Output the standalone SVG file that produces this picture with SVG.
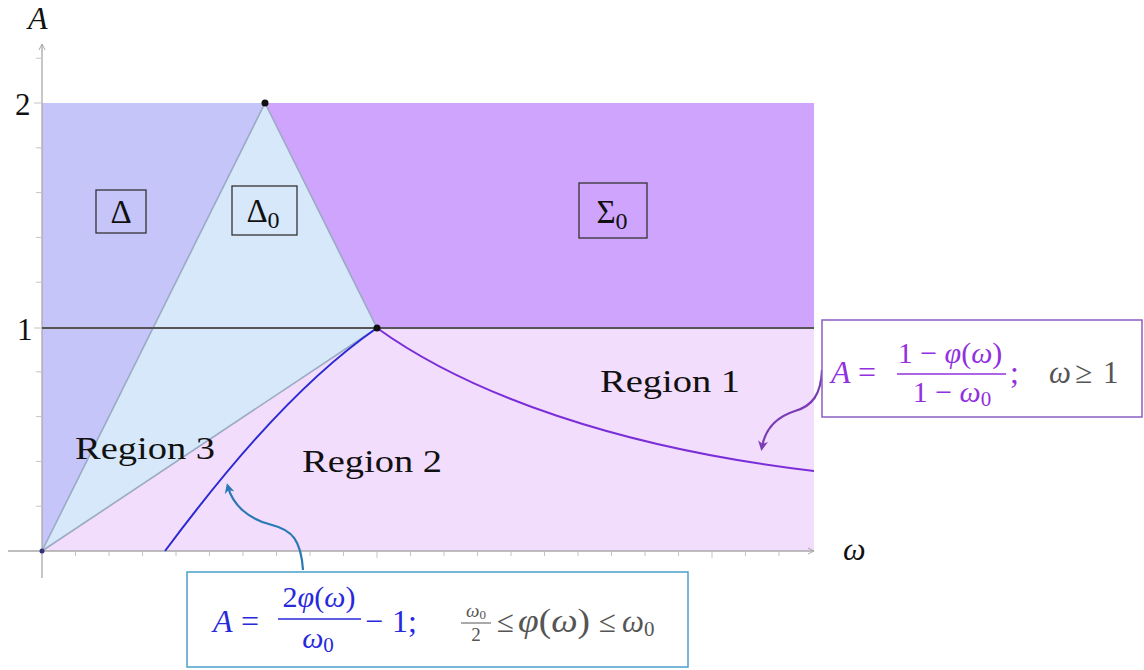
<svg xmlns="http://www.w3.org/2000/svg" width="1144" height="670" viewBox="0 0 1144 670">
<style>
.m{font-family:"Liberation Serif","DejaVu Serif",serif;}
.i{font-style:italic;}
.lbl{font-family:"Liberation Serif","DejaVu Serif",serif;fill:#111;}
.edge{stroke:#9aaac4;stroke-width:1.6;fill:none;}
.ax{stroke:#a8a8a8;stroke-width:1.3;fill:none;}
.tk{stroke:#c4c4c4;stroke-width:1;}
.box{fill:none;stroke:#333;stroke-width:1.3;}
</style>
<defs>
<marker id="axh" markerWidth="8" markerHeight="8" refX="6" refY="4" orient="auto" markerUnits="userSpaceOnUse"><path d="M0,1 L6,4 L0,7" fill="none" stroke="#a8a8a8" stroke-width="1"/></marker>
<marker id="ab" markerWidth="12" markerHeight="12" refX="6" refY="6" orient="auto" markerUnits="userSpaceOnUse"><path d="M0,1 L10,6 L0,11 L3,6 Z" fill="#2a78b4"/></marker>
<marker id="ap" markerWidth="12" markerHeight="12" refX="6" refY="6" orient="auto" markerUnits="userSpaceOnUse"><path d="M0,1 L10,6 L0,11 L3,6 Z" fill="#7a3cb4"/></marker>
</defs>

<g id="regions">
<polygon id="pink" points="42,551 377,328 814,328 814,551" fill="#f3ddfc"/>
<polygon id="sigma0" points="265,103 814,103 814,328 377,328" fill="#cfa4fc"/>
<polygon id="delta" points="42,103 265,103 42,551" fill="#c5c5fa"/>
<polygon id="delta0" points="42,551 265,103 377,328" fill="#d6e8fa"/>
</g>

<g id="axes">
<line class="ax" x1="42" y1="578" x2="42" y2="44" marker-end="url(#axh)"/>
<line class="ax" x1="8" y1="551" x2="814" y2="551" marker-end="url(#axh)"/>
<g class="tk">
<line x1="36" y1="506.2" x2="42" y2="506.2"/><line x1="36" y1="461.4" x2="42" y2="461.4"/><line x1="36" y1="416.6" x2="42" y2="416.6"/><line x1="36" y1="371.8" x2="42" y2="371.8"/><line x1="34" y1="328" x2="42" y2="328"/>
<line x1="36" y1="282.2" x2="42" y2="282.2"/><line x1="36" y1="237.4" x2="42" y2="237.4"/><line x1="36" y1="192.6" x2="42" y2="192.6"/><line x1="36" y1="147.8" x2="42" y2="147.8"/><line x1="34" y1="103" x2="42" y2="103"/><line x1="36" y1="58.2" x2="42" y2="58.2"/>
<line x1="75.5" y1="551" x2="75.5" y2="556"/><line x1="109" y1="551" x2="109" y2="556"/><line x1="142.5" y1="551" x2="142.5" y2="556"/><line x1="176" y1="551" x2="176" y2="556"/><line x1="209.5" y1="551" x2="209.5" y2="556"/><line x1="243" y1="551" x2="243" y2="556"/><line x1="276.5" y1="551" x2="276.5" y2="556"/><line x1="310" y1="551" x2="310" y2="556"/><line x1="343.5" y1="551" x2="343.5" y2="556"/><line x1="377" y1="551" x2="377" y2="558"/>
<line x1="410.5" y1="551" x2="410.5" y2="556"/><line x1="444" y1="551" x2="444" y2="556"/><line x1="477.5" y1="551" x2="477.5" y2="556"/><line x1="511" y1="551" x2="511" y2="556"/><line x1="544.5" y1="551" x2="544.5" y2="556"/><line x1="578" y1="551" x2="578" y2="556"/><line x1="611.5" y1="551" x2="611.5" y2="556"/><line x1="645" y1="551" x2="645" y2="556"/><line x1="678.5" y1="551" x2="678.5" y2="556"/><line x1="712" y1="551" x2="712" y2="558"/>
<line x1="745.5" y1="551" x2="745.5" y2="556"/><line x1="779" y1="551" x2="779" y2="556"/>
</g>
<text class="lbl i" x="28" y="29" font-size="32">A</text>
<text class="lbl i" x="843" y="560" font-size="32">ω</text>
<text class="lbl" x="15" y="115" font-size="31">2</text>
<text class="lbl" x="17" y="340" font-size="31">1</text>
</g>

<g id="boundaries">
<line class="edge" x1="42" y1="551" x2="265" y2="103"/>
<line class="edge" x1="265" y1="103" x2="377" y2="328"/>
<line class="edge" x1="42" y1="551" x2="377" y2="328"/>
<line x1="42" y1="328" x2="814" y2="328" stroke="#555" stroke-width="2"/>
<path id="curve1" d="M377,328 C470,395 620,448 814,471" fill="none" stroke="#7a2ed8" stroke-width="2"/>
<path id="curve2" d="M165,551 C212,488 290,388 377,328" fill="none" stroke="#2a2ad4" stroke-width="2"/>
<circle cx="265" cy="103" r="3.5" fill="#111"/>
<circle cx="377" cy="328" r="3.5" fill="#111"/>
<circle cx="42" cy="551" r="2.5" fill="#33337a"/>
</g>

<g id="node-delta">
<rect class="box" x="96" y="190" width="50" height="43"/>
<text class="lbl" x="121" y="223" text-anchor="middle" font-size="33">Δ</text>
</g>
<g id="node-delta0">
<rect class="box" x="232" y="186" width="65" height="49"/>
<text class="lbl" x="263" y="222" text-anchor="middle" font-size="33">Δ<tspan font-size="24" dy="6">0</tspan></text>
</g>
<g id="node-sigma0">
<rect class="box" x="579" y="183" width="68" height="55"/>
<text class="lbl" x="612" y="223" text-anchor="middle" font-size="33">Σ<tspan font-size="24" dy="6">0</tspan></text>
</g>

<g id="region-labels">
<text class="lbl" x="600" y="392" font-size="32" textLength="140" lengthAdjust="spacingAndGlyphs">Region 1</text>
<text class="lbl" x="302" y="472" font-size="32" textLength="140" lengthAdjust="spacingAndGlyphs">Region 2</text>
<text class="lbl" x="75" y="459" font-size="32" textLength="140" lengthAdjust="spacingAndGlyphs">Region 3</text>
</g>

<g id="connectors">
<path d="M303,570 C301,540 292,530 272,525 C248,519 233,505 228,487" fill="none" stroke="#2a78b4" stroke-width="2.2" marker-end="url(#ab)"/>
<path d="M822,370 C821,395 812,406 795,411 C776,417 765,430 762,447" fill="none" stroke="#7a3cb4" stroke-width="2.2" marker-end="url(#ap)"/>
</g>

<g id="formula1">
<rect x="822" y="320" width="320" height="97" fill="#fff" stroke="#8a5ec4" stroke-width="1.5"/>
<g class="m" fill="#9230e0" font-size="30">
<text class="i" x="831" y="383" font-size="32">A</text>
<text x="858" y="383" font-size="32">=</text>
<text x="950" y="363" text-anchor="middle">1 − <tspan class="i">φ</tspan>(<tspan class="i">ω</tspan>)</text>
<line x1="897" y1="374" x2="1006" y2="374" stroke="#9230e0" stroke-width="1.6"/>
<text x="952" y="402" text-anchor="middle">1 − <tspan class="i">ω</tspan><tspan font-size="21" dy="4">0</tspan></text>
<text x="1010" y="383" font-size="32">;</text>
</g>
<g class="m" fill="#555" font-size="31">
<text class="i" x="1049" y="383">ω</text>
<text x="1075" y="383">≥</text>
<text x="1103" y="383">1</text>
</g>
</g>

<g id="formula2">
<rect x="187" y="572" width="501" height="95" fill="#fff" stroke="#4aa0c8" stroke-width="1.5"/>
<g class="m" fill="#2828dc" font-size="30">
<text class="i" x="213" y="632" font-size="32">A</text>
<text x="241" y="632" font-size="32">=</text>
<text x="319" y="607" text-anchor="middle">2<tspan class="i">φ</tspan>(<tspan class="i">ω</tspan>)</text>
<line x1="278" y1="619" x2="361" y2="619" stroke="#2828dc" stroke-width="1.6"/>
<text x="318" y="648" text-anchor="middle"><tspan class="i">ω</tspan><tspan font-size="21" dy="4">0</tspan></text>
<text x="365" y="632" font-size="32">−</text>
<text x="392" y="632" font-size="32">1;</text>
</g>
<g class="m" fill="#555" font-size="31">
<text x="476" y="617" text-anchor="middle" font-size="19"><tspan class="i">ω</tspan><tspan font-size="13" dy="2">0</tspan></text>
<line x1="461" y1="623" x2="491" y2="623" stroke="#555" stroke-width="1"/>
<text x="476" y="641" text-anchor="middle" font-size="19">2</text>
<text x="497" y="632">≤</text>
<text x="518" y="632" font-size="33" textLength="72" lengthAdjust="spacingAndGlyphs"><tspan class="i">φ</tspan>(<tspan class="i">ω</tspan>)</text>
<text x="599" y="632">≤</text>
<text x="622" y="632"><tspan class="i">ω</tspan><tspan font-size="21" dy="4">0</tspan></text>
</g>
</g>
</svg>
